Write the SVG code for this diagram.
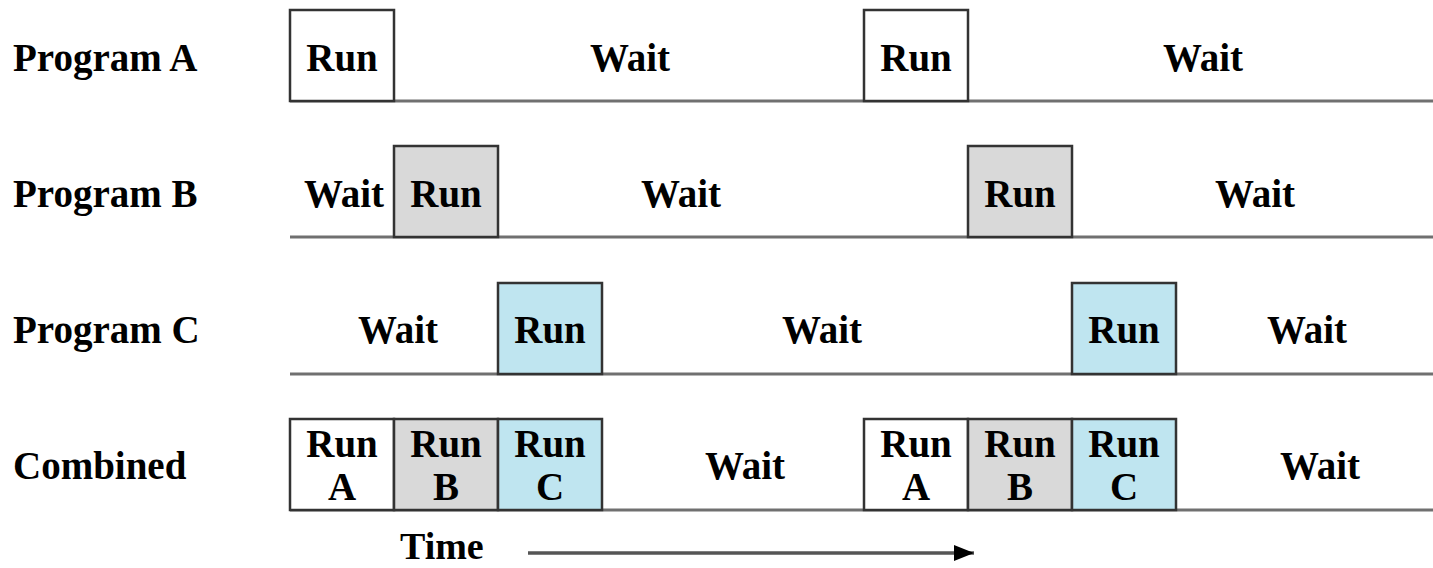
<svg xmlns="http://www.w3.org/2000/svg" width="1433" height="568" viewBox="0 0 1433 568">
<defs>
<style>
text{font-family:"Liberation Serif","Times New Roman",serif;font-weight:bold;font-size:39px;fill:#000}
.c{text-anchor:middle}
.base{stroke:#707070;stroke-width:3;fill:none}
.box{stroke:#333;stroke-width:2.5}
.w{fill:#fff}.g{fill:#d9d9d9}.b{fill:#bfe5f0}
</style>
<marker id="ah" viewBox="0 0 20 16" refX="20" refY="8" markerWidth="20" markerHeight="16" markerUnits="userSpaceOnUse" orient="auto"><path d="M0,0L20,8L0,16z" fill="#000"/></marker>
</defs>
<rect width="1433" height="568" fill="#fff"/>
<g id="connectors">
<line class="base" x1="290" y1="101" x2="1433" y2="101"/>
<line class="base" x1="290" y1="237" x2="1433" y2="237"/>
<line class="base" x1="290" y1="374" x2="1433" y2="374"/>
<line class="base" x1="290" y1="510" x2="1433" y2="510"/>
<line x1="528" y1="553" x2="974" y2="553" stroke="#555" stroke-width="3.5" marker-end="url(#ah)"/>
</g>
<g id="labels">
<text x="13" y="71">Program A</text>
<text x="13" y="207">Program B</text>
<text x="13" y="343">Program C</text>
<text x="13" y="479">Combined</text>
<text x="400" y="559" style="font-size:38px">Time</text>
</g>
<g id="rowA">
<rect class="box w" x="290" y="10" width="104" height="91"/><text class="c" x="342" y="71">Run</text>
<text class="c" x="630" y="71">Wait</text>
<rect class="box w" x="864" y="10" width="104" height="91"/><text class="c" x="916" y="71">Run</text>
<text class="c" x="1203" y="71">Wait</text>
</g>
<g id="rowB">
<text class="c" x="344" y="207">Wait</text>
<rect class="box g" x="394" y="146" width="104" height="91"/><text class="c" x="446" y="207">Run</text>
<text class="c" x="681" y="207">Wait</text>
<rect class="box g" x="968" y="146" width="104" height="91"/><text class="c" x="1020" y="207">Run</text>
<text class="c" x="1255" y="207">Wait</text>
</g>
<g id="rowC">
<text class="c" x="398" y="343">Wait</text>
<rect class="box b" x="498" y="283" width="104" height="91"/><text class="c" x="550" y="343">Run</text>
<text class="c" x="822" y="343">Wait</text>
<rect class="box b" x="1072" y="283" width="104" height="91"/><text class="c" x="1124" y="343">Run</text>
<text class="c" x="1307" y="343">Wait</text>
</g>
<g id="combined">
<rect class="box w" x="290" y="419" width="104" height="91"/><text class="c" x="342" y="457">Run</text><text class="c" x="342" y="500">A</text>
<rect class="box g" x="394" y="419" width="104" height="91"/><text class="c" x="446" y="457">Run</text><text class="c" x="446" y="500">B</text>
<rect class="box b" x="498" y="419" width="104" height="91"/><text class="c" x="550" y="457">Run</text><text class="c" x="550" y="500">C</text>
<text class="c" x="745" y="479">Wait</text>
<rect class="box w" x="864" y="419" width="104" height="91"/><text class="c" x="916" y="457">Run</text><text class="c" x="916" y="500">A</text>
<rect class="box g" x="968" y="419" width="104" height="91"/><text class="c" x="1020" y="457">Run</text><text class="c" x="1020" y="500">B</text>
<rect class="box b" x="1072" y="419" width="104" height="91"/><text class="c" x="1124" y="457">Run</text><text class="c" x="1124" y="500">C</text>
<text class="c" x="1320" y="479">Wait</text>
</g>
</svg>
